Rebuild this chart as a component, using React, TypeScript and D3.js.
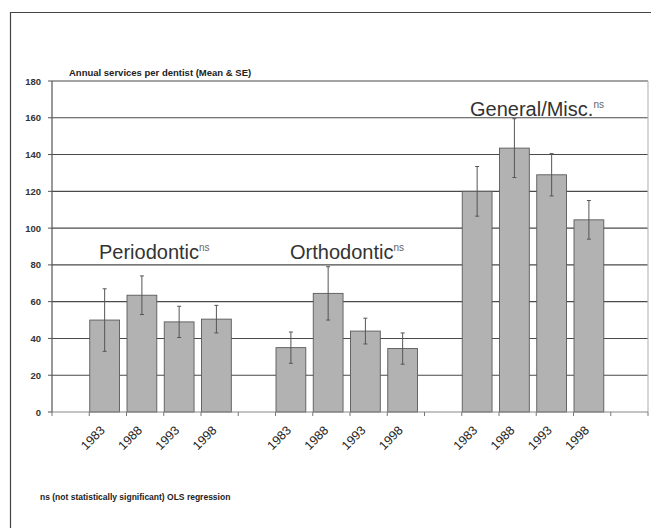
import React from 'react';
import * as d3 from 'd3';

// Annual services per dentist, mean and standard error by survey year
const years = ['1983', '1988', '1993', '1998'];
const groups = ['Periodontic', 'Orthodontic', 'General/Misc.'];
const periodonticMean = [50, 63.5, 49, 50.5];
const periodonticSE = [17, 10.5, 8.5, 7.5];
const orthodonticMean = [35, 64.5, 44, 34.5];
const orthodonticSE = [8.5, 14.5, 7, 8.5];
const generalMean = [120, 143.5, 129, 104.5];
const generalSE = [13.5, 16, 11.5, 10.5];
const yTicks = [0, 20, 40, 60, 80, 100, 120, 140, 160, 180];

const groupMeans = [periodonticMean, orthodonticMean, generalMean];
const groupSEs = [periodonticSE, orthodonticSE, generalSE];

const W = 651;
const H = 528;
const plot = { left: 52, right: 648, top: 81, bottom: 412 };
const FONT = 'Arial, "Liberation Sans", Helvetica, sans-serif';
// group caption placement (pixel x, data-space y)
const captionX = [99, 290, 470];
const captionY = [83, 83, 161];

type Row = { slot: string; group: number; year: string; mean: number; se: number };

// one blank slot before each group, plus a trailing blank slot
const slots: string[] = [];
const rows: Row[] = [];
groups.forEach((g, gi) => {
  slots.push(`gap-${gi}`);
  years.forEach((yr, yi) => {
    const id = `${gi}-${yr}`;
    slots.push(id);
    rows.push({ slot: id, group: gi, year: yr, mean: groupMeans[gi][yi], se: groupSEs[gi][yi] });
  });
});
slots.push('gap-end');

export default function App() {
  const x = d3.scaleBand<string>().domain(slots).range([plot.left, plot.right]).padding(0);
  const y = d3.scaleLinear().domain([0, 180]).range([plot.bottom, plot.top]);
  const bw = x.bandwidth();
  const barW = bw * 0.8;
  const boundaries = d3.range(slots.length + 1).map((i) => plot.left + i * bw);

  return (
    <svg
      width={W}
      height={H}
      style={{ position: 'absolute', left: 0, top: 0, background: '#fff' }}
      fontFamily={FONT}
    >
      <rect x={0} y={0} width={W} height={H} fill="#fff" />
      {/* outer frame */}
      <line x1={10.5} y1={12} x2={10.5} y2={H} stroke="#444" strokeWidth={1.2} />
      <line x1={10} y1={12.5} x2={W} y2={12.5} stroke="#444" strokeWidth={1.2} />

      {/* gridlines */}
      {yTicks.slice(1).map((t) => (
        <line key={t} x1={plot.left} x2={plot.right} y1={y(t)} y2={y(t)} stroke="#4a4a4a" strokeWidth={1.1} />
      ))}
      {/* right plot border */}
      <line x1={plot.right} x2={plot.right} y1={plot.top} y2={plot.bottom} stroke="#bbb" strokeWidth={1.2} />

      {/* bars */}
      {rows.map((r) => (
        <rect
          key={r.slot}
          x={(x(r.slot) as number) + 0.5}
          y={y(r.mean)}
          width={barW}
          height={y(0) - y(r.mean)}
          fill="#b2b2b2"
          stroke="#5a5a5a"
          strokeWidth={0.9}
        />
      ))}

      {/* error bars */}
      {rows.map((r) => {
        const cx = (x(r.slot) as number) + 0.5 + barW / 2;
        return (
          <g key={`e-${r.slot}`} stroke="#555" strokeWidth={1}>
            <line x1={cx} x2={cx} y1={y(r.mean + r.se)} y2={y(r.mean - r.se)} />
            <line x1={cx - 2} x2={cx + 2} y1={y(r.mean + r.se)} y2={y(r.mean + r.se)} />
            <line x1={cx - 2} x2={cx + 2} y1={y(r.mean - r.se)} y2={y(r.mean - r.se)} />
          </g>
        );
      })}

      {/* y axis */}
      <line x1={plot.left} x2={plot.left} y1={plot.top} y2={plot.bottom} stroke="#555" strokeWidth={1.2} />
      {yTicks.map((t) => (
        <g key={`yt-${t}`}>
          <line x1={plot.left - 4} x2={plot.left} y1={y(t)} y2={y(t)} stroke="#555" strokeWidth={1} />
          <text x={41} y={y(t) + 3.5} textAnchor="end" fontSize={9.5} fontWeight="bold" fill="#333">
            {t}
          </text>
        </g>
      ))}

      {/* x axis */}
      <line x1={plot.left} x2={plot.right} y1={plot.bottom} y2={plot.bottom} stroke="#888" strokeWidth={1.2} />
      {boundaries.map((bx, i) => (
        <line key={`xt-${i}`} x1={bx} x2={bx} y1={plot.bottom} y2={plot.bottom + 4} stroke="#777" strokeWidth={1} />
      ))}
      {rows.map((r) => {
        const cx = (x(r.slot) as number) + 0.5 + barW / 2 + 1;
        const ly = 431;
        return (
          <text
            key={`xl-${r.slot}`}
            x={cx}
            y={ly}
            textAnchor="end"
            fontSize={12.5}
            fill="#222"
            transform={`rotate(-45 ${cx} ${ly})`}
          >
            {r.year}
          </text>
        );
      })}

      {/* title */}
      <text x={69} y={76} fontSize={9.5} fontWeight="bold" fill="#222">
        Annual services per dentist (Mean &amp; SE)
      </text>

      {/* group captions */}
      {groups.map((g, gi) => (
        <text key={g} x={captionX[gi]} y={y(captionY[gi])} fontSize={20} fill="#333">
          {g}
          <tspan fontSize={10} dy={-8} fill="#666">
            ns
          </tspan>
        </text>
      ))}

      {/* footnote */}
      <text x={40} y={500} fontSize={8.5} fontWeight="bold" fill="#222">
        ns (not statistically significant) OLS regression
      </text>
    </svg>
  );
}
